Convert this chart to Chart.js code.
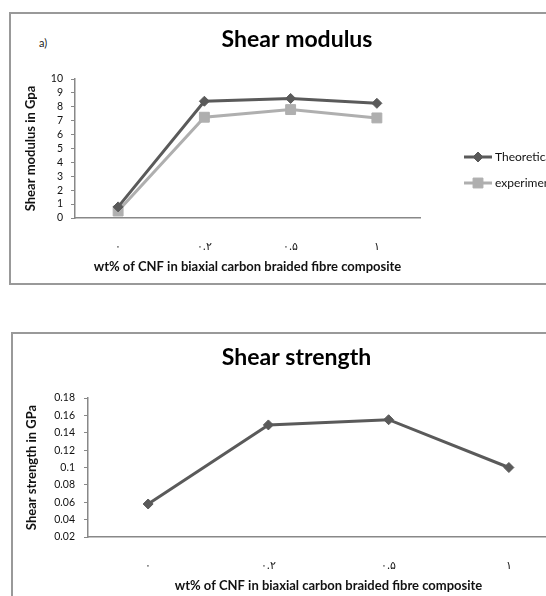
<!DOCTYPE html>
<html><head><meta charset="utf-8">
<script src="https://cdn.jsdelivr.net/npm/chart.js@4.4.1/dist/chart.umd.min.js"></script>
<style>
html,body{margin:0;padding:0;width:546px;height:596px;overflow:hidden;background:#fff;}
.frame{position:absolute;border:2px solid #999;box-sizing:border-box;}
#f1{left:9px;top:12px;width:620px;height:273px;}
#f2{left:11px;top:332px;width:620px;height:300px;}
canvas{position:absolute;left:0;}
#c1{top:0;}
#c2{top:300px;}
#lbl{position:absolute;left:39px;top:36px;font:11px Lato, sans-serif;color:#222;}
</style></head><body>
<div class="frame" id="f1"></div>
<div class="frame" id="f2"></div>
<div id="lbl">a)</div>
<canvas id="c1" width="620" height="300"></canvas>
<canvas id="c2" width="620" height="296"></canvas>
<script>
// ---- data ----
const categories = ['۰', '۰.۲', '۰.۵', '۱'];
const theoretical = [0.8, 8.4, 8.6, 8.25];
const experimental = [0.5, 7.25, 7.8, 7.2];
const shearStrength = [0.058, 0.149, 0.155, 0.1];
const modulusTicks = [0, 1, 2, 3, 4, 5, 6, 7, 8, 9, 10];
const modulusTickLabels = ['0', '1', '2', '3', '4', '5', '6', '7', '8', '9', '10'];
const strengthTicks = [0.02, 0.04, 0.06, 0.08, 0.1, 0.12, 0.14, 0.16, 0.18];
const strengthTickLabels = ['0.02', '0.04', '0.06', '0.08', '0.1', '0.12', '0.14', '0.16', '0.18'];
const seriesNames = ['Theoretical', 'experimental'];
const titles = ['Shear modulus', 'Shear strength'];
const xTitle = 'wt% of CNF in biaxial carbon braided fibre composite';
const yTitles = ['Shear modulus in Gpa', 'Shear strength in GPa'];

const FONT = 'Lato, "Open Sans", sans-serif';
const AXIS = '#888888';
const DARK = '#5a5a5a';
const LIGHT = '#afafaf';

const sideLegend = {
  id: 'sideLegend',
  afterDraw(chart, args, opts) {
    if (!opts || !opts.show) return;
    const ctx = chart.ctx;
    chart.data.datasets.forEach((ds, i) => {
      const y = opts.y + i * opts.gap;
      ctx.save();
      ctx.strokeStyle = ds.borderColor;
      ctx.lineWidth = ds.borderWidth;
      ctx.beginPath();
      ctx.moveTo(opts.x, y);
      ctx.lineTo(opts.x + opts.len, y);
      ctx.stroke();
      ctx.fillStyle = ds.backgroundColor;
      ctx.strokeStyle = ds.borderColor;
      ctx.lineWidth = 1;
      Chart.helpers.drawPoint(ctx, {pointStyle: ds.pointStyle, radius: ds.pointRadius, rotation: 0, borderWidth: 1}, opts.x + opts.len / 2, y);
      ctx.fillStyle = '#111';
      ctx.font = '12px ' + FONT;
      ctx.textBaseline = 'middle';
      ctx.textAlign = 'left';
      ctx.fillText(ds.label, opts.x + opts.len + 3, y);
      ctx.restore();
    });
  }
};

function yScale(ticksArr, labelsArr, min, max, title, width, pad) {
  return {
    min: min, max: max,
    afterBuildTicks: s => { s.ticks = ticksArr.map(v => ({value: v})); },
    grid: {drawOnChartArea: false, drawTicks: true, tickLength: 4, color: AXIS, lineWidth: 1},
    border: {display: true, color: AXIS, width: 1.5},
    ticks: {font: {family: FONT, size: 10.5}, color: '#111', padding: pad, autoSkip: false,
            callback: (v, i) => labelsArr[i]},
    title: {display: true, text: title, font: {family: FONT, size: 13, weight: 'bold'}, color: '#111', padding: 0},
    afterFit: s => { s.width = width; }
  };
}
function xScale(pad) {
  return {
    type: 'category', offset: true,
    grid: {display: false},
    border: {display: true, color: AXIS, width: 1.5},
    ticks: {font: {family: FONT, size: 11}, color: '#111', padding: pad, maxRotation: 0, autoSkip: false},
    title: {display: true, text: xTitle, font: {family: FONT, size: 13, weight: 'bold'}, color: '#111', padding: 0},
    afterFit: s => { s.height = 57; }
  };
}

new Chart(document.getElementById('c1'), {
  type: 'line',
  data: {
    labels: categories,
    datasets: [
      {label: seriesNames[0], data: theoretical, borderColor: DARK, backgroundColor: DARK, borderWidth: 3,
       pointStyle: 'rectRot', pointRadius: 5, pointHoverRadius: 5, pointBorderWidth: 1, tension: 0},
      {label: seriesNames[1], data: experimental, borderColor: LIGHT, backgroundColor: LIGHT, borderWidth: 3,
       pointStyle: 'rect', pointRadius: 7, pointHoverRadius: 7, pointBorderWidth: 1, tension: 0}
    ]
  },
  options: {
    responsive: false, animation: false, events: [],
    layout: {padding: {left: 23, right: 49, top: 0, bottom: 25}},
    plugins: {
      legend: {display: false}, tooltip: {enabled: false},
      title: {display: true, text: titles[0], color: '#000', font: {family: FONT, size: 23, weight: 'bold'}, padding: {top: 26, bottom: 25.4}},
      sideLegend: {show: true, x: 464, y: 157, gap: 26, len: 28}
    },
    scales: {
      x: xScale(14),
      y: yScale(modulusTicks, modulusTickLabels, 0, 10, yTitles[0], 52, 8),
      spacer: {type: 'linear', position: 'right', display: true, grid: {display: false}, border: {display: false},
               ticks: {display: false}, afterFit: s => { s.width = 151; }}
    }
  },
  plugins: [sideLegend]
});

new Chart(document.getElementById('c2'), {
  type: 'line',
  data: {
    labels: categories,
    datasets: [
      {label: 'Shear strength', data: shearStrength, borderColor: DARK, backgroundColor: DARK, borderWidth: 3,
       pointStyle: 'rectRot', pointRadius: 5, pointHoverRadius: 5, pointBorderWidth: 1, tension: 0}
    ]
  },
  options: {
    responsive: false, animation: false, events: [],
    layout: {padding: {left: 24, right: 51, top: 0, bottom: 2}},
    plugins: {
      legend: {display: false}, tooltip: {enabled: false},
      title: {display: true, text: titles[1], color: '#000', font: {family: FONT, size: 23, weight: 'bold'}, padding: {top: 44, bottom: 26.4}}
    },
    scales: {
      x: xScale(14),
      y: yScale(strengthTicks, strengthTickLabels, 0.02, 0.18, yTitles[1], 64, 9)
    }
  }
});
</script>
</body></html>
